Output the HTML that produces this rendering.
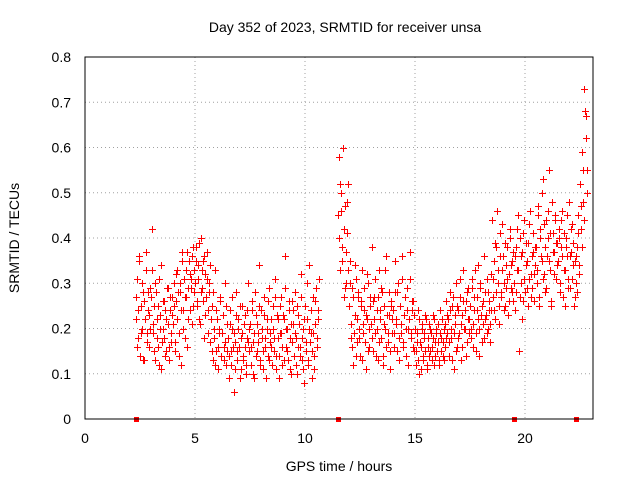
<!DOCTYPE html>
<html><head><meta charset="utf-8"><style>
body{margin:0;background:#fff}
svg{display:block;font-family:"Liberation Sans",sans-serif}
</style></head><body>
<svg id="chart" width="640" height="480">
<text x="345" y="32" font-size="14" text-anchor="middle">Day 352 of 2023, SRMTID for receiver unsa</text>
<text x="19" y="238" font-size="14" text-anchor="middle" transform="rotate(-90 19 238)">SRMTID / TECUs</text>
<text x="339" y="471" font-size="14" text-anchor="middle">GPS time / hours</text>
<g id="grid"></g>
<g id="ticks"></g>
<g id="pts" shape-rendering="crispEdges"></g>
<rect x="85" y="57" width="508" height="362" fill="none" stroke="#000"/>
</svg>
<script>
const xTicks=[0,5,10,15,20];
const yTicks=[0,0.1,0.2,0.3,0.4,0.5,0.6,0.7,0.8];
const yTickLabels=["0","0.1","0.2","0.3","0.4","0.5","0.6","0.7","0.8"];
const seg1Start=2.3, seg2Start=11.5, step=0.05;
const seg1Values=[22,31,18,35,14,25,20,28,13,33,19,24,16,29,
27,42,21,15,30,18,25,12,23,34,17,20,26,14,22,29,16,24,19,27,
21,30,15,26,33,19,28,12,35,24,31,18,27,37,22,32,29,36,25,33,
30,38,26,34,22,40,29,35,18,32,27,37,24,30,
17,25,13,20,33,15,22,11,19,27,14,23,16,30,12,21,
18,9,24,15,20,6,17,28,13,22,16,25,11,19,14,23,10,18,30,15,
21,12,26,17,9,23,15,19,34,13,24,18,11,27,16,20,14,29,17,22,
12,25,18,31,14,22,9,19,27,16,23,13,36,20,15,26,11,21,17,24,
14,28,18,10,23,16,32,13,20,8,25,17,22,12,34,19,15,27,11,21,29,16,24];
const seg1ValuesB=[27,16,24,36,19,30,13,26,22,37,17,28,23,20,
33,19,25,13,28,22,16,31,20,11,26,18,24,15,29,21,13,27,17,23,
25,17,32,22,28,14,30,24,37,20,27,33,16,29,35,24,31,21,38,28,
35,25,31,39,21,28,33,26,36,23,31,19,28,34,
22,15,28,18,12,24,16,20,26,14,19,23,13,17,25,15,
14,21,12,27,16,19,11,23,15,20,9,18,25,13,21,16,12,24,17,20,
16,24,10,19,28,14,21,17,25,12,20,15,23,18,9,22,26,13,19,16,
20,15,27,11,23,18,14,25,19,12,22,29,16,20,13,24,18,10,26,21,
19,12,25,16,21,14,27,18,11,22,15,30,13,20,17,24,9,19,14,26,18,22,31];
const seg2Values=[45,58,33,50,38,27,47,30,41,52,
25,35,18,29,12,23,31,17,27,20,14,26,33,19,24,11,22,30,16,25,
21,38,15,27,19,24,13,33,22,18,28,14,25,20,36,17,23,11,26,19,
24,16,35,21,28,13,25,19,31,17,23,27,14,29,20,37,18,24,26,15,
20,12,17,24,10,16,21,13,19,15,22,11,18,14,20,16,23,12,17,19,15,21,13,24,18,14,20,16,26,19,
22,14,28,18,25,11,21,30,16,24,19,27,13,23,33,20,26,17,29,22,
25,18,31,21,27,15,24,34,20,29,23,17,26,36,22,19,28,24,21,32,
44,27,35,22,38,30,25,41,28,33,36,24,39,29,31,26,42,34,28,37,
30,24,38,33,45,27,36,22,41,31,28,39,35,25,43,32,29,37,26,34,
38,30,47,25,42,35,53,32,28,44,36,40,55,33,26,41,37,45,31,39,
35,42,28,38,46,33,25,40,36,31,48,29,37,43,34,27,
30,38,45,34,52,42,59,48,73,67,55];
const seg2ValuesB=[40,52,46,35,60,42,29,37,48,33,
30,21,16,27,19,34,14,22,28,18,25,13,21,29,17,23,32,15,20,27,
18,26,22,31,14,20,27,17,24,29,12,21,33,16,23,19,28,15,25,22,
19,28,22,15,30,18,25,21,36,16,27,20,24,12,22,31,19,26,16,23,
15,19,13,22,17,11,20,14,18,23,12,16,21,15,19,13,18,22,14,20,17,12,19,15,22,17,13,21,18,23,
17,24,20,13,27,19,23,15,25,18,31,21,16,26,20,24,14,28,22,19,
20,29,16,24,33,19,27,22,14,30,25,21,18,28,23,31,20,26,17,24,
31,24,39,28,46,33,21,36,27,43,30,25,34,38,23,32,40,29,35,26,
36,28,42,33,15,40,30,37,26,44,34,29,39,31,46,27,36,41,32,38,
33,45,27,40,36,50,31,43,38,29,46,35,41,25,48,37,32,44,39,34,
40,30,44,36,27,41,33,38,45,29,36,42,31,39,25,35,
36,28,41,32,47,38,55,44,68,62,50];
const gapMarkers=[2.3,11.5,19.5,22.3];
const NS="http://www.w3.org/2000/svg";
const X=v=>85+v*22, Y=v=>419-v*452.5;
function mk(tag,attrs,parent){const e=document.createElementNS(NS,tag);for(const k in attrs)e.setAttribute(k,attrs[k]);parent.appendChild(e);return e;}
const grid=document.getElementById('grid'),ticks=document.getElementById('ticks'),pts=document.getElementById('pts');
xTicks.forEach(t=>{
 if(t>0){const l=mk('line',{x1:X(t),x2:X(t),y1:57,y2:419,stroke:'#a0a0a0','stroke-dasharray':'1,3'},grid);
 
 }
 const tx=mk('text',{x:X(t),y:443,'font-size':14,'text-anchor':'middle'},ticks);tx.textContent=t;
 
 
});
yTicks.forEach((t,i)=>{
 if(t>0&&t<0.8){const l=mk('line',{x1:85,x2:593,y1:Y(t),y2:Y(t),stroke:'#a0a0a0','stroke-dasharray':'1,3'},grid);
 
 }
 const tx=mk('text',{x:71,y:Y(t)+5,'font-size':14,'text-anchor':'end'},ticks);tx.textContent=yTickLabels[i];
 
 
});
function plus(t,v){
 const x=Math.round(X(t)),y=Math.round(Y(v));
 const g=mk('g',{fill:'#ff0000'},pts);
 
 
 mk('rect',{x:x-3,y:y,width:7,height:1},g);
 mk('rect',{x:x,y:y-3,width:1,height:7},g);
}
seg1Values.forEach((v,i)=>plus(seg1Start+i*step,v/100));
seg1ValuesB.forEach((v,i)=>plus(seg1Start+step/2+i*step,v/100));
seg2Values.forEach((v,i)=>plus(seg2Start+i*step,v/100));
seg2ValuesB.forEach((v,i)=>plus(seg2Start+step/2+i*step,v/100));
gapMarkers.forEach(t=>{
 const r=mk('rect',{x:Math.round(X(t))-2,y:417,width:5,height:5,fill:'#ff0000'},pts);
 
 
});
</script>
</body></html>
